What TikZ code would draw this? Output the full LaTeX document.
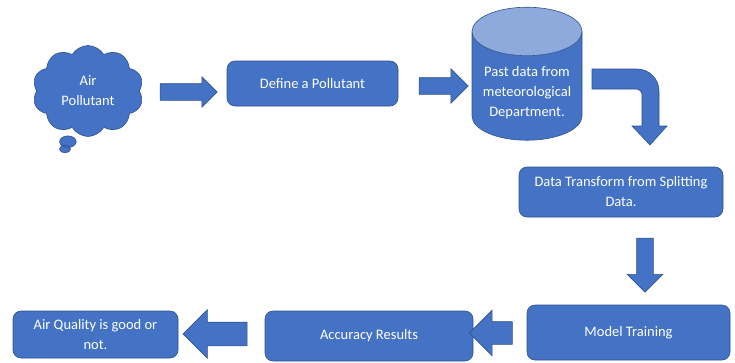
\documentclass[tikz,border=0pt]{standalone}
\usepackage{fontspec}
\setmainfont{Carlito}
\usetikzlibrary{shapes.geometric,shapes.arrows,shapes.symbols,shapes.callouts}
\definecolor{boxblue}{HTML}{4472C4}
\definecolor{edgeblue}{HTML}{2F528F}
\definecolor{topblue}{HTML}{8EA9DB}

\begin{document}
\begin{tikzpicture}[x=1pt,y=-1pt,
  stepbox/.style={rectangle, rounded corners=8pt, fill=boxblue, draw=edgeblue,
    line width=0.6pt, text=white, align=center, inner sep=0pt,
    font=\fontsize{14.5}{20}\selectfont},
  blockarrow/.style={single arrow, fill=boxblue, draw=edgeblue, line width=0.6pt,
    inner xsep=0pt, single arrow tip angle=90}]

  \useasboundingbox (0,0) rectangle (735,362);

  % nodes
  \node[cloud callout, cloud puffs=10, cloud puff arc=120, cloud ignores aspect,
    minimum width=111pt, minimum height=91pt, callout absolute pointer={(65,149)},
    callout pointer segments=2, fill=boxblue, draw=edgeblue, line width=0.6pt,
    text=white, align=center, inner sep=0pt,
    font=\fontsize{14.5}{20}\selectfont] (air) at (88,91) {Air\\Pollutant};
  \node[stepbox, minimum width=171pt, minimum height=45pt] (define) at (312.5,83.5) {Define a Pollutant};
  \node[cylinder, shape border rotate=90, aspect=0.55, minimum width=110pt,
    minimum height=133pt, cylinder uses custom fill, cylinder body fill=boxblue,
    cylinder end fill=topblue, draw=edgeblue, line width=0.6pt, text=white,
    inner sep=0pt, font=\fontsize{14.5}{20}\selectfont] (past) at (527,86)
    {\raisebox{-6pt}[\height][\depth]{\begin{tabular}{@{}c@{}}Past data from\\meteorological\\Department.\end{tabular}}};
  \node[stepbox, minimum width=204pt, minimum height=50pt] (transform) at (621,192) {Data Transform from Splitting\\Data.};
  \node[stepbox, minimum width=203pt, minimum height=55pt] (training) at (628.5,332.5) {Model Training};
  \node[stepbox, minimum width=208pt, minimum height=50pt] (accuracy) at (369,336) {Accuracy Results};
  \node[stepbox, minimum width=165pt, minimum height=47pt] (quality) at (95.5,334.5) {Air Quality is good or\\not.};

  % arrows
  \node[blockarrow, minimum height=57pt, inner ysep=8pt, single arrow head extend=7pt] (a1) at (184.5,92) {};
  \node[blockarrow, minimum height=49pt, inner ysep=8pt, single arrow head extend=9pt] (a2) at (439.5,86) {};
  \fill[boxblue, draw=edgeblue, line width=0.6pt] (592,69) [rounded corners=22pt] -- (659,69)
    [sharp corners] -- (659,126) -- (667,126) -- (650,145) -- (632,126) -- (642,126)
    [rounded corners=6pt] -- (642,89) [sharp corners] -- (592,89) -- cycle;
  \node[blockarrow, shape border rotate=270, minimum height=54pt, inner ysep=0pt, inner xsep=8pt, single arrow head extend=9.5pt] (a3) at (645,261) {};
  \node[blockarrow, shape border rotate=180, minimum height=43pt, inner ysep=11pt, single arrow head extend=11.5pt] (a4) at (496.5,333) {};
  \node[blockarrow, shape border rotate=180, minimum height=64pt, inner ysep=11.5pt, single arrow head extend=12.5pt] (a5) at (221,334) {};

\end{tikzpicture}
\end{document}
